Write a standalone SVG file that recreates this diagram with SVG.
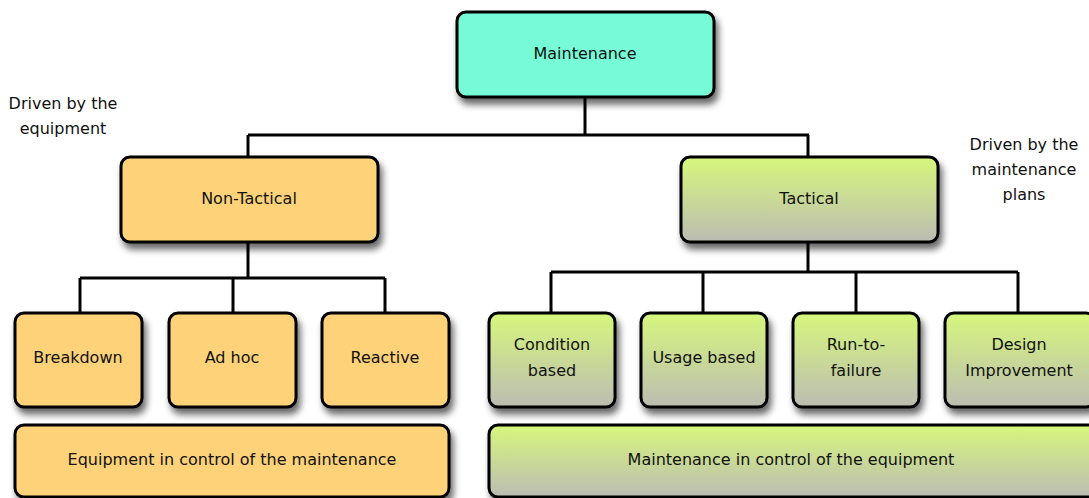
<svg xmlns="http://www.w3.org/2000/svg" width="1089" height="498" viewBox="0 0 1089 498">
  <defs>
    <linearGradient id="greenFill" x1="0" y1="0" x2="0" y2="1">
      <stop offset="0" stop-color="#d6f77c"/>
      <stop offset="1" stop-color="#bcbcb2"/>
    </linearGradient>
    <filter id="shadow" x="-10%" y="-10%" width="125%" height="140%">
      <feGaussianBlur in="SourceAlpha" stdDeviation="3.5"/>
      <feOffset dx="3" dy="6" result="blur"/>
      <feComponentTransfer><feFuncA type="linear" slope="0.6"/></feComponentTransfer>
      <feMerge><feMergeNode/><feMergeNode in="SourceGraphic"/></feMerge>
    </filter>
    <style>
      .box { stroke: #000; stroke-width: 3; filter: url(#shadow); }
      .root { fill: #76fbd6; }
      .orange { fill: #fed279; }
      .green { fill: url(#greenFill); }
      .lbl { font-family: "DejaVu Sans", "Liberation Sans", sans-serif; font-size: 16px; fill: #111; text-anchor: middle; }
      .note { font-family: "DejaVu Sans", "Liberation Sans", sans-serif; font-size: 16px; fill: #111; text-anchor: middle; }
      .wire { fill: none; stroke: #000; stroke-width: 3; }
    </style>
  </defs>
  <rect width="1089" height="498" fill="#fff"/>

  <!-- tree connectors -->
  <g id="connectors" class="wire">
    <path d="M585 97 V135 M248 135 H809 M248 135 V157 M808 135 V157"/>
    <path d="M248 243 V278 M80 278 H385 M80 278 V312 M233 278 V312 M385 278 V312"/>
    <path d="M808 243 V272 M551 272 H1018 M551 272 V312 M703 272 V312 M856 272 V312 M1018 272 V312"/>
  </g>

  <g id="maintenance">
    <rect class="box root" x="457" y="12" width="257" height="85" rx="9"/>
    <text class="lbl" x="585" y="59">Maintenance</text>
  </g>

  <g id="non-tactical">
    <rect class="box orange" x="121" y="157" width="257" height="85" rx="9"/>
    <text class="lbl" x="249" y="204">Non-Tactical</text>
  </g>

  <g id="tactical">
    <rect class="box green" x="681" y="157" width="257" height="85" rx="9"/>
    <text class="lbl" x="809" y="204">Tactical</text>
  </g>

  <g id="note-equipment">
    <text class="note" x="63" y="109">Driven by the</text>
    <text class="note" x="63" y="134">equipment</text>
  </g>

  <g id="note-plans">
    <text class="note" x="1024" y="150">Driven by the</text>
    <text class="note" x="1024" y="175">maintenance</text>
    <text class="note" x="1024" y="200">plans</text>
  </g>

  <g id="breakdown">
    <rect class="box orange" x="15" y="313" width="127" height="94" rx="9"/>
    <text class="lbl" x="78" y="363">Breakdown</text>
  </g>
  <g id="ad-hoc">
    <rect class="box orange" x="169" y="313" width="127" height="94" rx="9"/>
    <text class="lbl" x="232" y="363">Ad hoc</text>
  </g>
  <g id="reactive">
    <rect class="box orange" x="322" y="313" width="127" height="94" rx="9"/>
    <text class="lbl" x="385" y="363">Reactive</text>
  </g>

  <g id="condition-based">
    <rect class="box green" x="489" y="313" width="126" height="94" rx="9"/>
    <text class="lbl" x="552" y="350">Condition</text>
    <text class="lbl" x="552" y="376">based</text>
  </g>
  <g id="usage-based">
    <rect class="box green" x="641" y="313" width="126" height="94" rx="9"/>
    <text class="lbl" x="704" y="363">Usage based</text>
  </g>
  <g id="run-to-failure">
    <rect class="box green" x="793" y="313" width="126" height="94" rx="9"/>
    <text class="lbl" x="856" y="350">Run-to-</text>
    <text class="lbl" x="856" y="376">failure</text>
  </g>
  <g id="design-improvement">
    <rect class="box green" x="945" y="313" width="150" height="94" rx="9"/>
    <text class="lbl" x="1019" y="350">Design</text>
    <text class="lbl" x="1019" y="376">Improvement</text>
  </g>

  <g id="equipment-control">
    <rect class="box orange" x="15" y="425" width="434" height="72" rx="9"/>
    <text class="lbl" x="232" y="465">Equipment in control of the maintenance</text>
  </g>
  <g id="maintenance-control">
    <rect class="box green" x="489" y="425" width="610" height="72" rx="9"/>
    <text class="lbl" x="791" y="465">Maintenance in control of the equipment</text>
  </g>
</svg>
